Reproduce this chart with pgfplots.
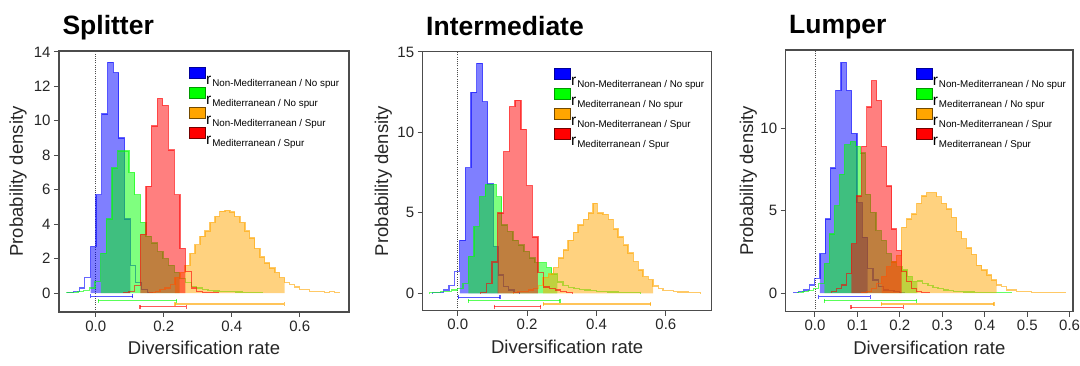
\documentclass[border=0pt]{standalone}
\usepackage{pgfplots}
\usepackage{pgfplotstable}
\usepackage{fontspec}
\setmainfont{Liberation Sans}
\pgfplotsset{compat=1.18}

\definecolor{cB}{RGB}{0,0,255}
\definecolor{cG}{RGB}{0,255,0}
\definecolor{cO}{RGB}{255,165,0}
\definecolor{cR}{RGB}{255,0,0}

% ---------------- Splitter ----------------
\pgfplotstableread{
x y
-0.082 0
-0.082 0.05
-0.065 0.1
-0.048 0.3
-0.032 0.9
-0.015 2.7
0.001 5.7
0.018 10.4
0.035 13.4
0.052 12.8
0.068 9.0
0.085 4.3
0.102 1.6
0.118 0.6
0.135 0.2
0.152 0.05
0.168 0
}\SBlue
\pgfplotstableread{
x y
-0.085 0
-0.085 0.05
-0.068 0.05
-0.052 0.1
-0.035 0.15
-0.018 0.3
-0.002 0.66
0.015 2.3
0.031 4.3
0.048 7.25
0.065 8.25
0.081 8.25
0.098 7.0
0.115 5.7
0.131 4.1
0.148 3.3
0.164 2.9
0.181 2.4
0.198 2.0
0.214 1.6
0.231 1.2
0.247 0.85
0.264 0.6
0.281 0.4
0.297 0.3
0.314 0.2
0.330 0.15
0.347 0.12
0.363 0.1
0.380 0.08
0.396 0.08
0.413 0.06
0.430 0.05
0.446 0.05
0.463 0.05
0.490 0
}\SGreen
\pgfplotstableread{
x y
0.160 0
0.160 0.05
0.175 0.1
0.189 0.2
0.204 0.3
0.219 0.5
0.233 0.9
0.248 1.2
0.263 1.6
0.277 2.3
0.292 2.8
0.307 3.3
0.321 3.6
0.336 4.1
0.351 4.45
0.365 4.75
0.380 4.8
0.395 4.7
0.409 4.45
0.424 4.1
0.439 3.6
0.453 3.2
0.468 2.6
0.483 2.1
0.497 1.75
0.512 1.45
0.527 1.2
0.541 0.9
0.556 0.6
0.571 0.5
0.585 0.35
0.600 0.2
0.615 0.2
0.629 0.1
0.644 0.1
0.659 0.1
0.673 0.05
0.688 0.1
0.703 0.05
0.717 0
}\SOrange
\pgfplotstableread{
x y
0.082 0
0.082 0.05
0.098 0.1
0.114 0.45
0.131 3.4
0.148 6.2
0.164 9.7
0.181 11.3
0.197 10.9
0.214 8.3
0.231 5.7
0.248 2.6
0.264 1.24
0.281 0.3
0.297 0.1
0.314 0.05
0.330 0.05
0.347 0.05
0.360 0
}\SRed

% ---------------- Intermediate ----------------
\pgfplotstableread{
x y
-0.072 0
-0.072 0.05
-0.056 0.05
-0.041 0.2
-0.025 0.5
-0.010 1.35
0.006 3.3
0.022 7.8
0.038 12.5
0.055 14.3
0.072 11.9
0.086 6.8
0.103 2.9
0.117 1.14
0.132 0.42
0.146 0.2
0.162 0.05
0.177 0
}\IBlue
\pgfplotstableread{
x y
-0.081 0
-0.081 0.05
-0.065 0.05
-0.049 0.1
-0.033 0.1
-0.017 0.2
-0.001 0.3
0.015 0.6
0.031 2.3
0.047 4.15
0.063 6.0
0.079 6.75
0.095 6.75
0.111 6.0
0.127 4.25
0.143 3.85
0.159 3.3
0.175 3.0
0.191 2.6
0.207 2.2
0.223 1.9
0.239 1.9
0.255 1.6
0.271 1.2
0.287 0.7
0.303 0.5
0.319 0.37
0.335 0.3
0.351 0.25
0.367 0.2
0.383 0.17
0.399 0.12
0.415 0.1
0.431 0.08
0.447 0.08
0.463 0.06
0.479 0.05
0.495 0.05
0.511 0.05
0.527 0
}\IGreen
\pgfplotstableread{
x y
0.160 0
0.160 0.05
0.174 0.1
0.189 0.1
0.203 0.2
0.218 0.3
0.232 0.5
0.246 1.0
0.261 1.2
0.275 1.6
0.290 2.2
0.304 2.7
0.318 3.3
0.333 3.8
0.347 4.25
0.362 4.6
0.376 5.0
0.390 5.6
0.402 5.0
0.419 4.9
0.434 4.6
0.448 4.0
0.462 3.5
0.477 3.0
0.491 2.5
0.506 1.97
0.520 1.45
0.534 1.04
0.549 0.85
0.563 0.46
0.578 0.3
0.592 0.17
0.606 0.17
0.621 0.1
0.635 0.08
0.650 0.08
0.664 0.05
0.678 0.05
0.700 0
}\IOrange
\pgfplotstableread{
x y
0.066 0
0.066 0.05
0.082 0.6
0.099 1.95
0.115 5.0
0.132 8.8
0.149 11.6
0.165 12.0
0.182 10.2
0.198 6.7
0.215 3.5
0.231 1.3
0.248 0.4
0.264 0.3
0.281 0.2
0.297 0.1
0.314 0.05
0.330 0
}\IRed

% ---------------- Lumper ----------------
\pgfplotstableread{
x y
-0.051 0
-0.051 0.05
-0.0385 0.1
-0.026 0.2
-0.0135 0.5
-0.001 0.9
0.0115 2.4
0.024 4.5
0.0365 7.6
0.049 12.3
0.0615 14.0
0.074 12.3
0.0865 9.7
0.099 5.5
0.1115 3.4
0.124 1.5
0.1365 0.8
0.149 0.4
0.1615 0.2
0.174 0.15
0.1865 0.1
0.199 0.05
0.2115 0
}\LBlue
\pgfplotstableread{
x y
-0.040 0
-0.040 0.05
-0.028 0.1
-0.016 0.15
-0.003 0.3
0.009 0.6
0.022 1.8
0.034 3.6
0.046 5.3
0.058 7.2
0.070 9.0
0.083 9.2
0.095 8.9
0.107 8.5
0.119 6.0
0.131 4.9
0.144 3.8
0.156 3.2
0.168 2.4
0.180 1.9
0.192 1.6
0.205 1.4
0.217 1.0
0.229 0.7
0.241 0.75
0.253 0.6
0.266 0.45
0.278 0.35
0.290 0.3
0.302 0.2
0.314 0.17
0.327 0.12
0.339 0.1
0.351 0.08
0.375 0.06
0.400 0.05
0.440 0.05
0.463 0
}\LGreen
\pgfplotstableread{
x y
0.110 0
0.110 0.05
0.122 0.1
0.133 0.3
0.145 0.6
0.157 1.0
0.169 1.6
0.181 1.9
0.192 2.3
0.204 4.0
0.216 4.5
0.228 4.8
0.240 5.45
0.251 5.9
0.263 6.1
0.275 6.1
0.287 5.85
0.298 5.45
0.310 5.1
0.322 4.6
0.334 3.75
0.346 3.3
0.357 2.75
0.369 2.35
0.381 1.7
0.393 1.4
0.405 1.1
0.416 0.8
0.428 0.5
0.440 0.4
0.452 0.2
0.464 0.2
0.475 0.1
0.487 0.1
0.499 0.1
0.511 0.05
0.534 0.05
0.570 0.05
0.590 0
}\LOrange
\pgfplotstableread{
x y
0.039 0
0.039 0.1
0.051 0.3
0.063 0.5
0.074 1.2
0.086 3.0
0.098 5.9
0.110 8.9
0.122 11.3
0.133 12.9
0.145 11.7
0.157 8.9
0.169 6.5
0.181 3.9
0.192 2.6
0.204 1.3
0.216 0.7
0.228 0.3
0.239 0.1
0.251 0.05
0.270 0
}\LRed

\newcommand{\histo}[4]{%
  \addplot[const plot mark left, draw=none, fill=#2, fill opacity=0.5,
           restrict x to domain=#3:#4, forget plot] table {#1} \closedcycle;
  \addplot[const plot mark left, draw=#2, draw opacity=0.6, line width=1.3pt,
           forget plot] table {#1};
}
\newcommand{\ci}[4]{%
  \addplot[#1, draw opacity=0.65, line width=1.3pt, mark=|, mark size=2pt,
           mark options={solid}, forget plot] coordinates {(#2,#4) (#3,#4)};
}
\newcommand{\zeroline}[2]{%
  \addplot[black!70, line width=0.8pt, dash pattern=on 1pt off 1.2pt, forget plot]
     coordinates {(0,#1) (0,#2)};
}
\newcommand{\legtext}[1]{\raisebox{0pt}[13pt][2pt]{\fontsize{15.5}{15}\selectfont r\hspace{1pt}\raisebox{-2.5pt}{\fontsize{9.8}{10}\selectfont #1}}}
\newcommand{\legbox}[2]{\addlegendimage{legend image code/.code={\fill[#1, draw=#2, line width=0.9pt] (0pt,0pt) rectangle (16pt,11pt);}}}
\newcommand{\mylegend}{%
  \legbox{cB}{cB!60!black}\addlegendentry{\legtext{Non-Mediterranean / No spur}}
  \legbox{cG}{cG!60!black}\addlegendentry{\legtext{Mediterranean / No spur}}
  \legbox{cO}{cO!45!black}\addlegendentry{\legtext{Non-Mediterranean / Spur}}
  \legbox{cR}{cR!45!black}\addlegendentry{\legtext{Mediterranean / Spur}}
}

\pgfplotsset{
  hstyle/.style={
    scale only axis,
    axis line style={draw=black!70, line width=1.1pt},
    tick style={draw=black!70, line width=1.0pt},
    tick align=outside, major tick length=5pt,
    xtick pos=left, ytick pos=left,
    /pgf/number format/assume math mode=true,
    ticklabel style={font=\fontsize{15}{15}\selectfont, text=black!85},
    xticklabel style={/pgf/number format/fixed, /pgf/number format/fixed zerofill, /pgf/number format/precision=1},
    yticklabel style={/pgf/number format/fixed},
    xlabel={Diversification rate},
    ylabel={Probability density},
    label style={font=\fontsize{18.5}{18.5}\selectfont, text=black!85},
    xlabel style={at={(axis description cs:0.5,0)}, anchor=base, yshift=-43pt},
    title style={at={(axis description cs:0,1)}, anchor=base west, yshift=10pt,
                 font=\bfseries\fontsize{26.5}{26.5}\selectfont},
    legend cell align=left,
    legend style={draw=none, fill=none, anchor=north west, row sep=1.3pt,
                  nodes={inner sep=0pt},
                  /tikz/every even column/.append style={column sep=7pt}},
  }
}

\begin{document}
\begin{tikzpicture}
\useasboundingbox (0,0) rectangle (1080pt,366pt);

% Splitter
\begin{axis}[hstyle, at={(59pt,54pt)}, anchor=south west, width=290pt, height=261pt,
  xmin=-0.108, xmax=0.745, ymin=-1.1, ymax=14.05,
  xtick={0,0.2,0.4,0.6}, ytick={0,2,...,14},
  title={Splitter},
  ylabel style={at={(axis description cs:-0.141,0.5)}, anchor=center},
  legend style={at={(axis description cs:0.438,0.946)}}]
\zeroline{-1.1}{14.05}
\histo{\SBlue}{cB}{-0.016}{0.103}
\histo{\SGreen}{cG}{0.014}{0.248}
\histo{\SOrange}{cO}{0.232}{0.557}
\histo{\SRed}{cR}{0.130}{0.265}
\ci{cB}{-0.015}{0.109}{-0.2}
\ci{cG}{0.008}{0.238}{-0.45}
\ci{cO}{0.233}{0.555}{-0.64}
\ci{cR}{0.130}{0.266}{-0.8}
\mylegend
\end{axis}

% Intermediate
\begin{axis}[hstyle, at={(422.7pt,55.3pt)}, anchor=south west, width=289pt, height=259.4pt,
  xmin=-0.101, xmax=0.732, ymin=-1.08, ymax=15.04,
  xtick={0,0.2,0.4,0.6}, ytick={0,5,10,15},
  title={Intermediate},
  ylabel style={at={(axis description cs:-0.136,0.5)}, anchor=center},
  legend style={at={(axis description cs:0.444,0.944)}}]
\zeroline{-1.08}{15.04}
\histo{\IBlue}{cB}{0.005}{0.118}
\histo{\IGreen}{cG}{0.030}{0.288}
\histo{\IOrange}{cO}{0.245}{0.564}
\histo{\IRed}{cR}{0.114}{0.232}
\ci{cB}{0.002}{0.122}{-0.25}
\ci{cG}{0.031}{0.295}{-0.46}
\ci{cO}{0.247}{0.556}{-0.67}
\ci{cR}{0.105}{0.239}{-0.83}
\mylegend
\end{axis}

% Lumper
\begin{axis}[hstyle, at={(785.7pt,54.3pt)}, anchor=south west, width=287.3pt, height=261.7pt,
  xmin=-0.069, xmax=0.608, ymin=-1.12, ymax=14.75,
  xtick={0,0.1,0.2,0.3,0.4,0.5,0.6}, ytick={0,5,10},
  title={Lumper},
  ylabel style={at={(axis description cs:-0.130,0.5)}, anchor=center},
  legend style={at={(axis description cs:0.442,0.94)}}]
\zeroline{-1.12}{14.75}
\histo{\LBlue}{cB}{0.011}{0.125}
\histo{\LGreen}{cG}{0.021}{0.242}
\histo{\LOrange}{cO}{0.156}{0.429}
\histo{\LRed}{cR}{0.085}{0.205}
\ci{cB}{0.009}{0.130}{-0.2}
\ci{cG}{0.022}{0.240}{-0.45}
\ci{cO}{0.156}{0.422}{-0.65}
\ci{cR}{0.085}{0.208}{-0.85}
\mylegend
\end{axis}
\end{tikzpicture}
\end{document}
